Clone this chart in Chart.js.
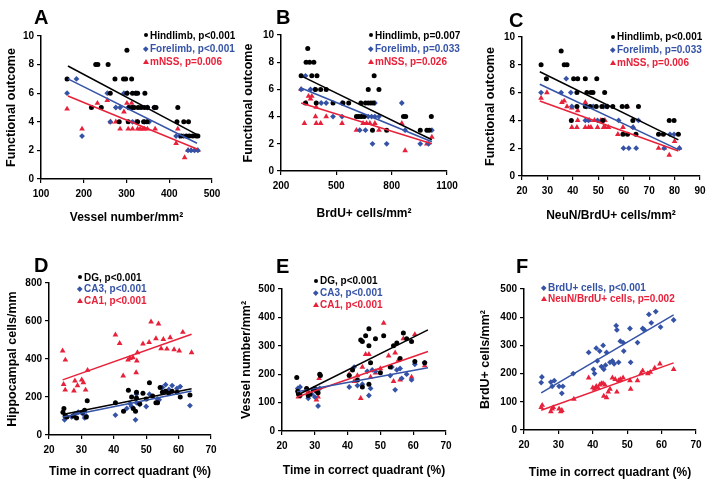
<!DOCTYPE html>
<html><head><meta charset="utf-8">
<script src="https://cdn.jsdelivr.net/npm/chart.js@4"></script>
<style>
body{margin:0;background:#fff;width:714px;height:485px;overflow:hidden;position:relative;font-family:"Liberation Sans",Arial,sans-serif;}
.letter{position:absolute;font-weight:bold;font-size:20px;line-height:20px;color:#000}
.leg{position:absolute;font-weight:bold;font-size:10px;white-space:nowrap}
.leg .row{display:flex;align-items:center}
.m{display:inline-flex;justify-content:center;align-items:center}
.mc{width:4px;height:4px;border-radius:50%}
.md{width:3.5px;height:3.5px;transform:rotate(45deg)}
.mt{width:0;height:0;border-left:3px solid transparent;border-right:3px solid transparent;border-bottom-width:5px;border-bottom-style:solid}
</style></head><body>
<script>
const BLACK='#000000', BLUE='#3553a6', RED='#e8213a';

// ---------- Panel A : Vessel number/mm2 vs functional outcome ----------
const aHind=[[161,7],[228,8],[233,8],[257,8],[218,5],[241,5],[262,6],[273,7],[283,4],[301,9],[293,7],[298,7],[312,7],[301,6],[314,6],[322,6],[326,6],[343,6],[306,5],[313,5],[318,5],[327,5],[334,5],[342,5],[349,5],[365,5],[369,5],[304,4],[326,4],[340,4],[348,4],[420,5],[418,4],[434,4],[445,4],[428,3],[440,3],[447,3],[455,3],[463,3],[467,3]];
const aFore=[[161,6],[183,7],[196,3],[255,6],[275,5],[285,5],[262,4],[294,6],[302,6],[304,5],[314,5],[314,4],[326,4],[322,6],[349,5],[365,5],[342,4],[353,4],[416,3],[424,3],[434,3],[444,2],[451,2],[459,2],[467,2]];
const aNss=[[161,4.9],[196,3.5],[232,5.3],[255,5.5],[263,4],[275,4],[285,3.5],[294,4.7],[301,5.3],[312,5.3],[304,3.5],[314,3.5],[322,4],[326,3.5],[332,3.5],[338,3.5],[342,3.5],[349,3.5],[349,4],[367,3.5],[416,2.5],[420,3.5],[436,1.5],[444,2],[451,2],[459,2],[467,2]];
const aHindFit=[[163,7.9],[465,3.1]], aForeFit=[[163,7.0],[465,2.5]], aNssFit=[[163,5.8],[465,2.1]];
const aLegend=['Hindlimb, p<0.001','Forelimb, p<0.001','mNSS, p=0.006'];

// ---------- Panel B : BrdU+ cells/mm2 ----------
const bHind=[[309,7],[345,9],[336,8],[355,8],[378,8],[367,7],[395,7],[333,5],[387,6],[415,6],[445,6],[391,5],[482,5],[536,5],[567,5],[609,4],[622,4],[636,4],[651,4],[633,5],[658,5],[673,5],[687,5],[700,5],[673,6],[705,7],[731,6],[696,3],[773,3],[864,4],[876,4],[955,3],[991,3],[1004,3],[1015,4]];
const bFore=[[309,6],[333,7],[360,6],[382,6],[418,5],[445,5],[531,5],[482,4],[531,4],[627,3],[658,3],[673,4],[691,4],[709,4],[731,4],[709,5],[696,2],[773,2],[855,5],[873,3],[955,2],[1000,2],[1018,3]];
const bNss=[[309,6],[327,3.5],[336,5],[349,5.5],[360,5.3],[367,5.5],[391,4.7],[387,4],[391,3.5],[415,3.5],[445,4],[531,3.5],[609,3],[645,3.5],[664,3.5],[682,3.5],[709,3.5],[731,3],[855,3.5],[873,1.5],[991,2],[1018,2.5]];
const bHindFit=[[309,7.0],[1018,2.3]], bForeFit=[[309,6.1],[1018,2.15]], bNssFit=[[309,5.0],[1018,2.0]];
const bLegend=['Hindlimb, p=0.007','Forelimb, p=0.033','mNSS, p=0.026'];

// ---------- Panel C : NeuN/BrdU+ cells/mm2 ----------
const cHind=[[27.5,8],[29.6,7],[35.4,9],[36.6,8],[37.7,8],[40.3,7],[41.9,7],[44.9,7],[49.4,7],[41.6,6],[45.5,6],[47.1,6],[47.9,6],[39.4,4],[41.6,5],[44.9,5],[46.8,5],[49.2,5],[51.4,5],[53.4,5],[55.7,5],[52.5,6],[51.8,4],[59.4,5],[61.2,5],[65.8,5],[59.7,3],[61.5,3],[63.6,4],[64.8,3],[73.7,3],[75.6,3],[77.9,4],[79.8,4],[81.5,3]];
const cFore=[[27.5,6],[35.4,6],[37.4,7],[39.2,6],[39.6,5],[44.9,4],[46.2,4],[45.5,5],[48.0,5],[49.7,4],[51.8,4],[52.1,5],[53.6,5],[58.0,4],[59.9,2],[62.0,2],[64.9,2],[63.6,3.5],[65.8,4],[75.9,2],[78.2,3],[79.8,3],[81.9,2]];
const cNss=[[27.5,5.6],[29.8,6],[35.7,5.3],[36.6,5.4],[37.7,5],[39.6,4.9],[39.6,3.5],[41.6,3.5],[41.9,4],[41.9,4.7],[44.9,5.3],[44.9,3.5],[46.2,3.5],[47.1,3.5],[46.5,4],[48.5,4],[49.7,3.5],[51.0,4],[52.1,3.5],[52.7,3.5],[54.0,3.5],[52.6,4],[61.5,5],[57.7,3],[59.7,3.5],[63.8,3.5],[73.7,2],[75.9,2],[77.9,1.5],[80.0,2.5],[81.9,2]];
const cHindFit=[[27,7.5],[81.5,2.6]], cForeFit=[[27,6.6],[81.5,1.9]], cNssFit=[[27,5.4],[81.5,1.8]];
const cLegend=['Hindlimb, p<0.001','Forelimb, p=0.033','mNSS, p=0.006'];

// ---------- Panel D : Hippocampal cells/mm ----------
const dDG=[[24.3,120],[24.6,140],[25,100],[25.5,95],[27.5,100],[28.5,90],[30.3,120],[31,130],[31.5,95],[31.8,180],[40.5,170],[43,125],[44.5,235],[45.5,200],[46,140],[46.7,125],[47,195],[47,225],[48,165],[49,220],[50,190],[51,275],[52,205],[53,170],[53.5,170],[54.3,250],[55,225],[56,230],[57,220],[58,230],[59.5,225],[60.5,200],[63.5,210]];
const dCA3=[[24.8,80],[25.2,100],[27,95],[28,110],[29,120],[30.5,110],[31,90],[31.5,100],[40.5,105],[44,140],[45,165],[45.5,150],[46.7,80],[47,215],[47,170],[48,160],[50,150],[51,215],[53.5,190],[54,185],[55,250],[56,265],[57,240],[58,260],[59.5,245],[60.5,255],[63.5,155]];
const dCA1=[[24.2,443],[25.05,395],[24.5,267],[25,237],[27.7,232],[28,285],[28.8,260],[30.1,290],[30.6,276],[31.3,237],[31.9,341],[40.5,527],[41.8,482],[42.9,311],[44.4,395],[45,404],[45.9,408],[47.1,390],[46.9,329],[47.3,434],[49,480],[50.9,488],[51.5,596],[53,508],[53.8,585],[54.6,455],[55.3,504],[56.4,453],[57.4,513],[58.6,450],[60.2,443],[61.3,541],[64,434]];
const dDGFit=[[24.2,108],[64,243]], dCA3Fit=[[24.2,95],[64,232]], dCA1Fit=[[24.2,290],[64,530]];
const dLegend=['DG, p<0.001','CA3, p<0.001','CA1, p<0.001'];

// ---------- Panel E : Vessel number/mm2 ----------
const eDG=[[24.5,188],[24.8,140],[25,130],[25.5,125],[27.5,150],[28,125],[28.5,130],[29.5,145],[30,150],[30.5,140],[31,135],[31.5,200],[31.7,195],[40.5,195],[41.5,215],[43,180],[44,320],[44.5,315],[45.5,335],[46.5,360],[46.5,300],[47,240],[48.5,325],[50,205],[51,335],[53,225],[54,300],[55,310],[56,255],[57,345],[58,325],[59.5,315],[60.5,245],[63.5,240],[44.5,155],[46.5,165]];
const eCA3=[[24.8,150],[25.5,155],[28,115],[29,130],[30,120],[31,88],[31.5,150],[40.5,155],[42,225],[43,160],[44.5,165],[46,210],[46.5,125],[47,150],[47.5,215],[48.5,210],[53,195],[53.5,225],[54.5,145],[55,215],[56,220],[56.5,185],[58,200],[59.5,180],[60.5,235],[63.5,240]];
const eCA1=[[25,120],[28,140],[29,130],[30.5,110],[31,120],[31.3,185],[40.5,200],[42,175],[43,195],[44,115],[44.5,225],[45.5,270],[46.5,270],[47,190],[48.5,205],[50,220],[51,380],[52.5,265],[54,175],[54.5,275],[55.5,250],[56,180],[57,325],[59.5,190],[60.5,340],[63.5,230]];
const eDGFit=[[24.6,126],[64.5,356]], eCA3Fit=[[24.6,138],[64.5,223]], eCA1Fit=[[24.6,120],[64.5,280]];
const eLegend=['DG, p<0.001','CA3, p<0.001','CA1, p<0.001'];

// ---------- Panel F : BrdU+ cells/mm2 ----------
const fBrdU=[[25,168],[25.2,188],[27.8,170],[28.2,155],[28.8,175],[30.2,155],[31,130],[31.3,155],[34.3,200],[38.8,275],[40.2,215],[40.5,200],[41,290],[41.3,245],[42,280],[42.5,225],[43,300],[43.2,215],[43.7,230],[44,275],[45,240],[45.7,245],[46.2,235],[46.8,370],[47,355],[47.5,240],[48,315],[48.8,310],[49,280],[50.8,360],[51,240],[53,310],[54.5,360],[55,355],[56.3,410],[57,380],[58.3,420],[59.7,365],[63.5,390]];
const fNeuN=[[25,80],[25.3,88],[27.8,65],[28.2,75],[28.5,80],[30.2,75],[30.7,65],[31,70],[34.5,110],[38.8,185],[40,150],[40.5,145],[41,155],[41.5,150],[42,160],[42.5,165],[43,165],[43.2,120],[43.5,160],[44,115],[44.5,135],[45,145],[45.7,185],[46.5,180],[47,135],[47.5,175],[48,180],[48.8,185],[50.8,175],[51,145],[53,175],[54,200],[54.5,210],[56,200],[56.7,205],[58,220],[59.5,235],[63.5,215]];
const fBrdUFit=[[25,132],[63.5,408]], fNeuNFit=[[25,70],[63.5,238]];
const fLegend=['BrdU+ cells, p<0.001','NeuN/BrdU+ cells, p=0.002'];

const timeTitle='Time in correct quadrant (%)';

function xy(a){return a.map(p=>({x:p[0],y:p[1]}));}

function panel(o){
  const [bx,by,bw,bh]=o.box;
  const cv=document.createElement('canvas');
  cv.width=bw; cv.height=bh;
  cv.style.cssText=`position:absolute;left:${bx}px;top:${by}px;width:${bw}px;height:${bh}px`;
  document.body.appendChild(cv);
  const ds=[];
  o.lines.forEach(l=>ds.push({type:'line',data:xy(l[0]),borderColor:l[1],borderWidth:1.5,pointRadius:0,fill:false,order:0}));
  o.series.forEach((s,i)=>ds.push({type:'scatter',data:xy(s.pts),pointStyle:s.style,pointRadius:s.r,
    backgroundColor:s.color,borderColor:s.color,borderWidth:0,order:s.order}));
  const axisCommon={
    border:{display:true,color:'#000',width:1.5},
    grid:{display:true,drawOnChartArea:false,drawTicks:true,tickLength:4,color:'#000',lineWidth:1.2},
  };
  const tickFont={family:'"Liberation Sans", Arial',size:10,weight:'bold'};
  new Chart(cv,{
    data:{datasets:ds},
    options:{
      responsive:false,animation:false,devicePixelRatio:1,
      plugins:{legend:{display:false},tooltip:{enabled:false}},
      layout:{padding:{top:o.plot[1],right:bw-o.plot[2],left:0,bottom:0}},
      scales:{
        x:Object.assign({type:'linear',min:o.x[0],max:o.x[1],
          ticks:{stepSize:o.x[2],color:'#000',padding:5,font:tickFont,callback:v=>String(v)},
          title:{display:true,text:o.xTitle,color:'#000',font:{family:'"Liberation Sans", Arial',size:12,weight:'bold'},padding:{top:0,bottom:o.xtPad}},
          afterFit:s=>{s.height=bh-o.plot[3];}
        },axisCommon),
        y:Object.assign({type:'linear',min:o.y[0],max:o.y[1],
          ticks:{stepSize:o.y[2],color:'#000',padding:3,font:tickFont,callback:v=>String(v)},
          title:{display:true,text:o.yTitle,color:'#000',font:{family:'"Liberation Sans", Arial',size:12.5,weight:'bold'},padding:{top:o.ytPad,bottom:0}},
          afterFit:s=>{s.width=o.plot[0];}
        },axisCommon)
      }
    }
  });
  const L=document.createElement('div');
  L.className='letter'; L.textContent=o.letter;
  L.style.left=o.letterPos[0]+'px'; L.style.top=o.letterPos[1]+'px';
  document.body.appendChild(L);
  const G=document.createElement('div');
  G.className='leg';
  G.style.left=o.leg[0]+'px'; G.style.top=o.leg[1]+'px';
  o.legend.forEach((t,i)=>{
    const s=o.legSeries[i];
    const row=document.createElement('div'); row.className='row';
    row.style.height=o.leg[2]+'px'; row.style.color=s.color;
    const m=document.createElement('span'); m.className='m'; m.style.width=o.leg[3]+'px';
    const sh=document.createElement('span');
    if(s.style==='circle'){sh.className='mc';sh.style.background=s.color;}
    else if(s.style==='rectRot'){sh.className='md';sh.style.background=s.color;}
    else {sh.className='mt';sh.style.borderBottomColor=s.color;}
    m.appendChild(sh); row.appendChild(m);
    const tx=document.createElement('span'); tx.textContent=t; row.appendChild(tx);
    G.appendChild(row);
  });
  document.body.appendChild(G);
}

const S=(pts,color,style,r,order)=>({pts,color,style,r,order});
const rC=2.5, rD=2.9, rT=3.3;

// A
(function(){const ser=[S(aHind,BLACK,'circle',rC,1),S(aFore,BLUE,'rectRot',rD,2),S(aNss,RED,'triangle',rT,3)];
panel({box:[0,0,235,240],plot:[41,36,212,179],x:[100,500,100],y:[0,10,2],
  xTitle:'Vessel number/mm²',yTitle:'Functional outcome',xtPad:14.8,ytPad:4.5,
  series:ser,legSeries:ser,lines:[[aHindFit,BLACK],[aForeFit,BLUE],[aNssFit,RED]],
  letter:'A',letterPos:[34,7],legend:aLegend,leg:[141,28.5,13.3,9]});})();
// B
(function(){const ser=[S(bHind,BLACK,'circle',rC,1),S(bFore,BLUE,'rectRot',rD,2),S(bNss,RED,'triangle',rT,3)];
panel({box:[235,0,235,240],plot:[46,35,212,171],x:[200,1100,300],y:[0,10,2],
  xTitle:'BrdU+ cells/mm²',yTitle:'Functional outcome',xtPad:18.8,ytPad:6.5,
  series:ser,legSeries:ser,lines:[[bHindFit,BLACK],[bForeFit,BLUE],[bNssFit,RED]],
  letter:'B',letterPos:[276,7],legend:bLegend,leg:[366,28.5,13.3,9]});})();
// C
(function(){const ser=[S(cHind,BLACK,'circle',rC,1),S(cFore,BLUE,'rectRot',rD,2),S(cNss,RED,'triangle',rT,3)];
panel({box:[470,0,244,240],plot:[52,37,230,176],x:[20,90,10],y:[0,10,2],
  xTitle:'NeuN/BrdU+ cells/mm²',yTitle:'Functional outcome',xtPad:16.8,ytPad:13,
  series:ser,legSeries:ser,lines:[[cHindFit,BLACK],[cForeFit,BLUE],[cNssFit,RED]],
  letter:'C',letterPos:[509,10],legend:cLegend,leg:[608,30.5,12.8,9]});})();
// D
(function(){const ser=[S(dDG,BLACK,'circle',rC,1),S(dCA3,BLUE,'rectRot',rD,2),S(dCA1,RED,'triangle',rT,3)];
panel({box:[0,245,235,240],plot:[49,38,211,190],x:[20,70,10],y:[0,800,200],
  xTitle:timeTitle,yTitle:'Hippocampal cells/mm',xtPad:6,ytPad:5.5,
  series:ser,legSeries:ser,lines:[[dDGFit,BLACK],[dCA3Fit,BLUE],[dCA1Fit,RED]],
  letter:'D',letterPos:[34,255],legend:dLegend,leg:[75,271.5,11.5,9]});})();
// E
(function(){const ser=[S(eDG,BLACK,'circle',rC,1),S(eCA3,BLUE,'rectRot',rD,2),S(eCA1,RED,'triangle',rT,3)];
panel({box:[235,245,235,240],plot:[47,44,211,186],x:[20,70,10],y:[0,500,100],
  xTitle:timeTitle,yTitle:'Vessel number/mm²',xtPad:7,ytPad:4.5,
  series:ser,legSeries:ser,lines:[[eDGFit,BLACK],[eCA3Fit,BLUE],[eCA1Fit,RED]],
  letter:'E',letterPos:[276,256],legend:eLegend,leg:[311,274.5,12.2,9]});})();
// F
(function(){const ser=[S(fBrdU,BLUE,'rectRot',rD,1),S(fNeuN,RED,'triangle',rT,2)];
panel({box:[470,245,244,240],plot:[54,44,226,185],x:[20,70,10],y:[0,500,100],
  xTitle:timeTitle,yTitle:'BrdU+ cells/mm²',xtPad:5,ytPad:8.5,
  series:ser,legSeries:ser,lines:[[fBrdUFit,BLUE],[fNeuNFit,RED]],
  letter:'F',letterPos:[516,256],legend:fLegend,leg:[539,282,10.7,9]});})();
</script>
</body></html>
